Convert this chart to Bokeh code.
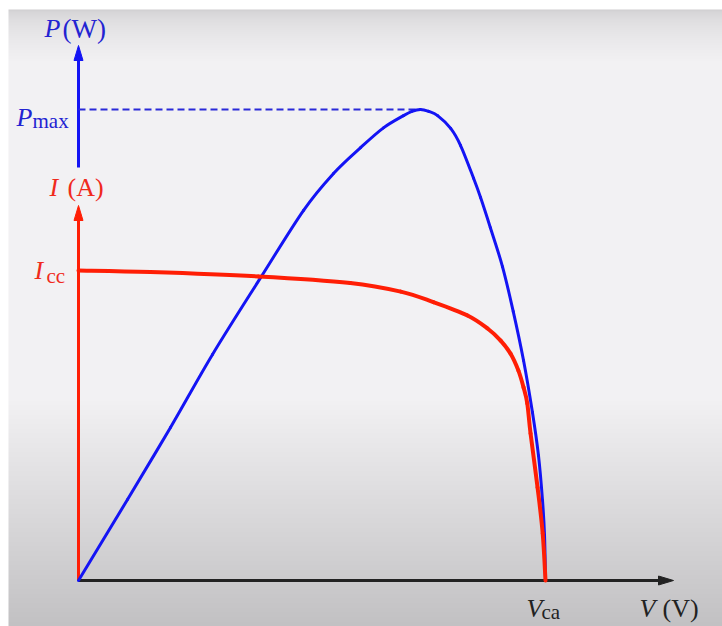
import numpy as np
from bokeh.plotting import figure
from bokeh.models import Range1d, Label
from bokeh.embed import file_html
from bokeh.resources import INLINE

# Characteristic values (normalised: V_ca = 1, I_cc = 1, P_max = 1)
V_CA = 1.0
I_CC = 1.0
P_MAX = 1.0

# I-V characteristic of the solar cell
V_iv = [0.0, 0.154, 0.385, 0.582, 0.690, 0.760, 0.833, 0.876, 0.904, 0.925,
        0.942, 0.953, 0.961, 0.968, 0.983, 0.994, 1.0]
I_iv = [1.0, 0.995, 0.981, 0.960, 0.932, 0.898, 0.855, 0.813, 0.774, 0.732,
        0.677, 0.623, 0.571, 0.474, 0.300, 0.152, 0.0]

# P-V characteristic
V_pv = [0.0, 0.105, 0.197, 0.287, 0.390, 0.482, 0.546, 0.604, 0.653, 0.696,
        0.714, 0.732, 0.750, 0.769, 0.797, 0.818, 0.846, 0.861, 0.882, 0.908,
        0.931, 0.953, 0.972, 0.985, 0.9936, 0.9979, 1.0]
P_pv = [0.0, 0.172, 0.325, 0.480, 0.643, 0.786, 0.864, 0.919, 0.961, 0.987,
        0.996, 1.0, 0.996, 0.987, 0.960, 0.924, 0.854, 0.813, 0.749, 0.666,
        0.571, 0.467, 0.357, 0.265, 0.170, 0.096, 0.0]

# Text of the annotations
P_AXIS = ("P", "(W)")
I_AXIS = ("I", "(A)")
V_AXIS = ("V", "(V)")
P_TICK = ("P", "max")
I_TICK = ("I", "cc")
V_TICK = ("V", "ca")

W, H = 722, 626
# pixel scale of each quantity and position of the origin on the canvas
SX, SI, SP = 467.0, 310.0, 471.0
OX, OY = 78.0, 580.0

BLUE = "#1414f4"
RED = "#ff1e05"
BLUE_TXT = "#2323d2"
RED_TXT = "#f02a1c"
DARK = "#222222"
FONT = "Liberation Serif"
LIFT = 8  # baseline correction for the labels


def smooth_curve(xs, ys, **kw):
    """Draw a polyline as a chain of Catmull-Rom Bezier segments."""
    x = np.asarray(xs, float)
    y = np.asarray(ys, float)
    xp = np.concatenate([[x[0]], x, [x[-1]]])
    yp = np.concatenate([[y[0]], y, [y[-1]]])
    n = len(x) - 1
    i = np.arange(n) + 1
    p.bezier(x0=xp[i], y0=yp[i], x1=xp[i + 1], y1=yp[i + 1],
             cx0=xp[i] + (xp[i + 1] - xp[i - 1]) / 6,
             cy0=yp[i] + (yp[i + 1] - yp[i - 1]) / 6,
             cx1=xp[i + 1] - (xp[i + 2] - xp[i]) / 6,
             cy1=yp[i + 1] - (yp[i + 2] - yp[i]) / 6,
             line_cap="round", **kw)


p = figure(width=W, height=H, output_backend="svg", toolbar_location=None,
           x_range=Range1d(-OX / SX, (W - OX) / SX),
           y_range=Range1d(-(H - OY) / SI, OY / SI),
           x_axis_type=None, y_axis_type=None, min_border=0)
p.extra_y_ranges = {"P": Range1d(-(H - OY) / SP, OY / SP)}
p.grid.visible = False
p.outline_line_color = None
p.background_fill_color = "white"
p.border_fill_color = "white"

# Shaded backdrop: light band at top, flat middle, darker towards the bottom
top_px, left_px = 9, 8
rows = np.arange(H - 1, top_px - 1, -1)  # bottom row first
shade = np.full(rows.shape, 242.0)
m = rows < 60
shade[m] = 208 + (242 - 208) * np.sqrt((rows[m] - top_px) / (60 - top_px))
m = rows > 400
shade[m] = 242 - (242 - 194) * (rows[m] - 400) / (H - 400)
rgba = np.zeros((len(rows), 1, 4), dtype=np.uint8)
rgba[..., 0] = shade[:, None]
rgba[..., 1] = shade[:, None] - 1
rgba[..., 2] = shade[:, None] + 1
rgba[..., 3] = 255
img = rgba.view(np.uint32).reshape(len(rows), 1)
p.image_rgba(image=[img], x=(left_px - OX) / SX, y=-(H - OY) / SI,
             dw=(W - left_px) / SX, dh=(H - top_px) / SI)

# Axes with arrow heads
head_len, head_half = 15.0, 4.5
x_tip = (673 - OX) / SX
p.line([0, x_tip - head_len / SX], [0, 0], line_color=DARK, line_width=3)
p.patch([x_tip, x_tip - head_len / SX, x_tip - head_len / SX],
        [0, head_half / SI, -head_half / SI], color=DARK)

p_tip = (OY - 45) / SP
p_gap = (OY - 167) / SP
p.line([0, 0], [p_gap, p_tip - head_len / SP], line_color=BLUE, line_width=3,
       y_range_name="P")
p.patch([0, head_half / SX, -head_half / SX],
        [p_tip, p_tip - head_len / SP, p_tip - head_len / SP], color=BLUE,
        y_range_name="P")

i_tip = (OY - 205) / SI
p.line([0, 0], [0, i_tip - head_len / SI], line_color=RED, line_width=3)
p.patch([0, head_half / SX, -head_half / SX],
        [i_tip, i_tip - head_len / SI, i_tip - head_len / SI], color=RED)

# P_max guide
v_peak = V_pv[int(np.argmax(P_pv))]
p.line([0, v_peak], [P_MAX, P_MAX], line_color="#2a2ad8", line_width=1.8,
       line_dash="7 4", y_range_name="P")

# Curves
smooth_curve(V_pv, P_pv, line_color=BLUE, line_width=3, y_range_name="P")
smooth_curve(V_iv, I_iv, line_color=RED, line_width=4)


def label(text, x, y, color, size, italic=False, **kw):
    opts = dict(x_units="screen", y_units="screen")
    opts.update(kw)
    p.add_layout(Label(x=x, y=y, text=text, text_color=color,
                       text_font=FONT, text_font_size=f"{size}px",
                       text_font_style="italic" if italic else "normal",
                       text_baseline="alphabetic", text_align="left", **opts))


# Axis titles
label(P_AXIS[0], 44, H - 36 + LIFT, BLUE_TXT, 26, italic=True)
label(P_AXIS[1], 62, H - 36 + LIFT, BLUE_TXT, 27)
label(I_AXIS[0], 49, H - 195 + LIFT, RED_TXT, 26, italic=True)
label(I_AXIS[1], 67, H - 195 + LIFT, RED_TXT, 26)
label(V_AXIS[0], 639, H - 616 + LIFT, DARK, 26, italic=True)
label(V_AXIS[1], 662, H - 616 + LIFT, DARK, 26)

# Characteristic values on the axes
label(P_TICK[0], 16, P_MAX, BLUE_TXT, 26, italic=True, y_units="data",
      y_range_name="P", y_offset=-16 + LIFT)
label(P_TICK[1], 32, P_MAX, BLUE_TXT, 21, y_units="data",
      y_range_name="P", y_offset=-19 + LIFT)
label(I_TICK[0], 34, I_CC, RED_TXT, 26, italic=True, y_units="data",
      y_offset=-8 + LIFT)
label(I_TICK[1], 46, I_CC, RED_TXT, 21, y_units="data", y_offset=-13 + LIFT)
label(V_TICK[0], V_CA, H - 616 + LIFT, DARK, 26, italic=True, x_units="data",
      x_offset=-19)
label(V_TICK[1], V_CA, H - 619 + LIFT, DARK, 21, x_units="data", x_offset=-4)

open("out.html", "w").write(file_html(p, INLINE))
